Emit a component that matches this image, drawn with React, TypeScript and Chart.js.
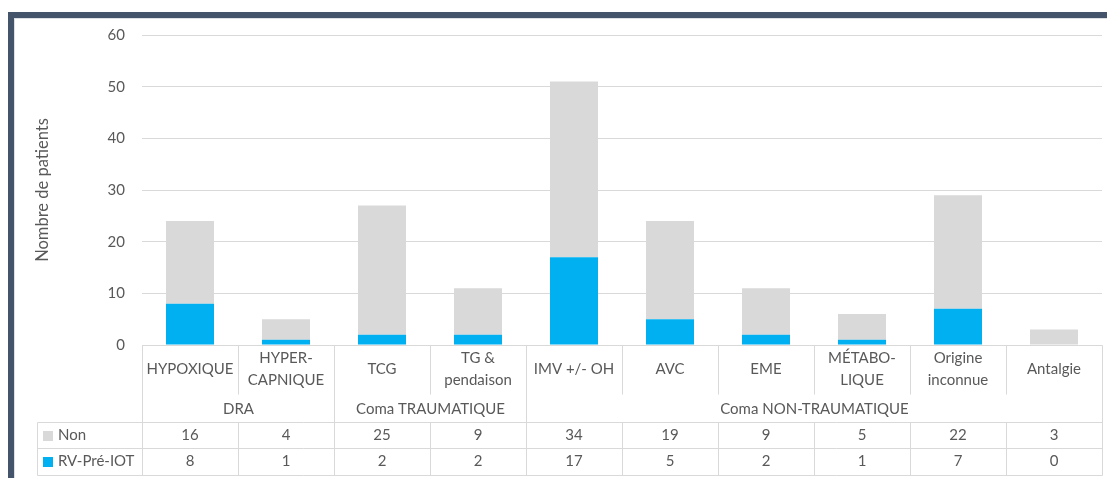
import React, { useEffect, useRef } from "react";
import { Chart, registerables } from "chart.js";

Chart.register(...registerables);

// ---- Data ----
const categoryLines: string[][] = [
  ["HYPOXIQUE"],
  ["HYPER-", "CAPNIQUE"],
  ["TCG"],
  ["TG &", "pendaison"],
  ["IMV +/- OH"],
  ["AVC"],
  ["EME"],
  ["MÉTABO-", "LIQUE"],
  ["Origine", "inconnue"],
  ["Antalgie"],
];
const groupLabels = ["DRA", "Coma TRAUMATIQUE", "Coma NON-TRAUMATIQUE"];
const groupSpans = [2, 2, 6];
const seriesNames = ["Non", "RV-Pré-IOT"];
const nonValues = [16, 4, 25, 9, 34, 19, 9, 5, 22, 3];
const rvValues = [8, 1, 2, 2, 17, 5, 2, 1, 7, 0];
const yTicks = [0, 10, 20, 30, 40, 50, 60];
const yTitle = "Nombre de patients";

const GREY = "#d9d9d9";
const BLUE = "#00b0f0";
const TEXT = "#595959";
const LINE = "#d9d9d9";
const FRAME = "#44546a";
const FONT = "Lato";

const framePlugin = {
  id: "frame",
  beforeDraw(chart: any) {
    const ctx = chart.ctx;
    ctx.save();
    ctx.fillStyle = "#ffffff";
    ctx.fillRect(0, 0, chart.width, chart.height);
    ctx.fillStyle = FRAME;
    ctx.fillRect(8, 12, chart.width - 8, 6);
    ctx.fillRect(8, 12, 6, chart.height - 12);
    ctx.fillStyle = "#dde1e6";
    ctx.fillRect(14, 18, chart.width - 14, 1);
    ctx.fillRect(14, 18, 1, chart.height - 18);
    ctx.restore();
  },
};

const tablePlugin = {
  id: "dataTable",
  afterDraw(chart: any) {
    const ctx = chart.ctx;
    const xs = chart.scales.x;
    const area = chart.chartArea;
    const n = categoryLines.length;
    const colW = (area.right - area.left) / n;
    const edge = (i: number) => Math.round(xs.getPixelForValue(0) - colW / 2 + i * colW) + 0.5;
    const top = Math.round(area.bottom) + 0.5;
    const labelBottom = top + 50;
    const groupBottom = top + 77;
    const row1Bottom = top + 103;
    const row2Bottom = top + 130;
    const tableLeft = 37.5;
    const right = edge(n);

    ctx.save();
    ctx.strokeStyle = LINE;
    ctx.lineWidth = 1;
    const line = (x1: number, y1: number, x2: number, y2: number) => {
      ctx.beginPath();
      ctx.moveTo(x1, y1);
      ctx.lineTo(x2, y2);
      ctx.stroke();
    };
    const groupEdges = [0];
    groupSpans.forEach((s) => groupEdges.push(groupEdges[groupEdges.length - 1] + s));

    line(edge(0), top, right, top);
    for (let i = 0; i <= n; i++) {
      const x = edge(i);
      if (groupEdges.includes(i)) {
        line(x, top, x, row2Bottom);
      } else {
        line(x, top, x, labelBottom - 1);
        line(x, groupBottom, x, row2Bottom);
      }
    }
    line(tableLeft, groupBottom, right, groupBottom);
    line(tableLeft, row1Bottom, right, row1Bottom);
    line(tableLeft, row2Bottom, right, row2Bottom);
    line(tableLeft, groupBottom, tableLeft, row2Bottom);

    ctx.fillStyle = TEXT;
    ctx.font = `15px ${FONT}`;
    ctx.textAlign = "center";
    ctx.textBaseline = "middle";
    for (let i = 0; i < n; i++) {
      const cx = xs.getPixelForValue(i);
      const lines = categoryLines[i];
      if (lines.length === 1) {
        ctx.fillText(lines[0], cx, top + 24);
      } else {
        ctx.fillText(lines[0], cx, top + 13);
        ctx.fillText(lines[1], cx, top + 35);
      }
    }
    groupLabels.forEach((g, k) => {
      const cx = (edge(groupEdges[k]) + edge(groupEdges[k + 1])) / 2;
      ctx.fillText(g, cx, top + 64);
    });
    const rows = [nonValues, rvValues];
    const rowY = [top + 90, top + 116];
    const rowColors = [GREY, BLUE];
    rows.forEach((vals, r) => {
      ctx.textAlign = "center";
      ctx.fillStyle = TEXT;
      vals.forEach((v, i) => ctx.fillText(String(v), xs.getPixelForValue(i), rowY[r]));
      ctx.fillStyle = rowColors[r];
      ctx.fillRect(43, Math.round(rowY[r] - 5), 10, 10);
      ctx.fillStyle = TEXT;
      ctx.textAlign = "left";
      ctx.fillText(seriesNames[r], 58, rowY[r]);
    });
    ctx.restore();
  },
};

export default function App() {
  const ref = useRef<HTMLCanvasElement | null>(null);
  useEffect(() => {
    if (!ref.current) return;
    Chart.defaults.font.family = FONT;
    const chart = new Chart(ref.current, {
      type: "bar",
      data: {
        labels: categoryLines.map((l) => l.join(" ")),
        datasets: [
          {
            label: seriesNames[1],
            data: rvValues,
            backgroundColor: BLUE,
            borderWidth: 0,
            barPercentage: 1,
            categoryPercentage: 0.5,
          },
          {
            label: seriesNames[0],
            data: nonValues,
            backgroundColor: GREY,
            borderWidth: 0,
            barPercentage: 1,
            categoryPercentage: 0.5,
          },
        ],
      },
      options: {
        responsive: false,
        animation: false,
        devicePixelRatio: 1,
        layout: { padding: { left: 0, top: 35, right: 5, bottom: 133 } },
        plugins: { legend: { display: false }, tooltip: { enabled: false } },
        scales: {
          x: { stacked: true, display: false },
          y: {
            stacked: true,
            min: 0,
            max: 60,
            afterBuildTicks: (scale: any) => {
              scale.ticks = yTicks.map((v) => ({ value: v }));
            },
            afterFit: (scale: any) => {
              scale.width = 142;
            },
            border: { display: false },
            grid: { color: LINE, drawTicks: false },
            ticks: { color: TEXT, font: { size: 15, family: FONT }, padding: 17 },
            title: {
              display: true,
              text: yTitle,
              color: TEXT,
              font: { size: 16.5, family: FONT },
              padding: { top: 33, bottom: 0 },
            },
          },
        },
      },
      plugins: [framePlugin, tablePlugin],
    });
    return () => chart.destroy();
  }, []);
  return (
    <div style={{ position: "absolute", left: 0, top: 0, width: 1107, height: 478 }}>
      <canvas ref={ref} width={1107} height={478} style={{ display: "block" }} />
    </div>
  );
}
